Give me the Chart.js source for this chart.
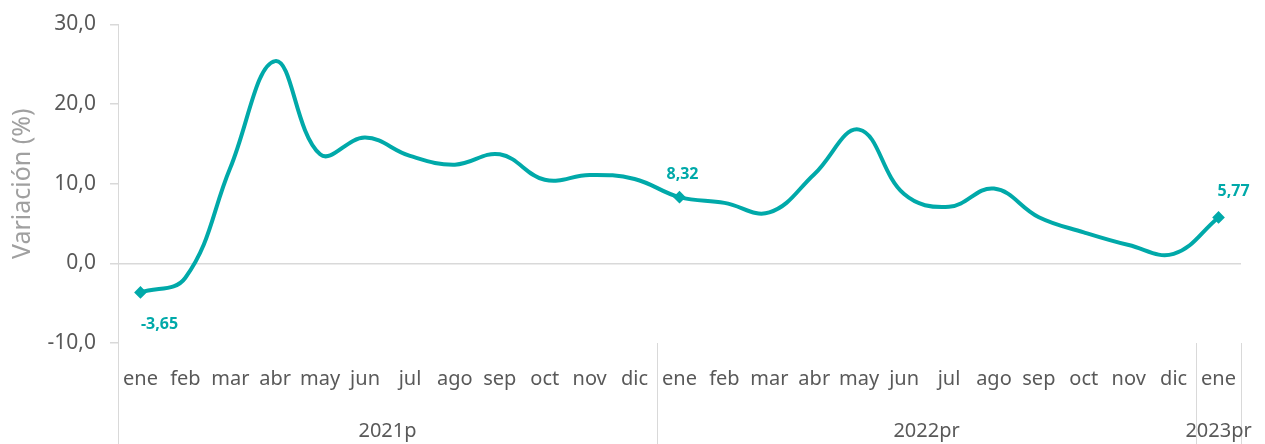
<!DOCTYPE html>
<html>
<head>
<meta charset="utf-8">
<script src="https://cdn.jsdelivr.net/npm/chart.js@4/dist/chart.umd.min.js"></script>
<style>
  html, body { margin: 0; padding: 0; background: #fff; }
  #wrap { width: 1265px; height: 444px; }
</style>
</head>
<body>
<div id="wrap"><canvas id="chart"></canvas></div>
<script>
const months = ['ene', 'feb', 'mar', 'abr', 'may', 'jun', 'jul', 'ago', 'sep', 'oct', 'nov', 'dic',
  'ene', 'feb', 'mar', 'abr', 'may', 'jun', 'jul', 'ago', 'sep', 'oct', 'nov', 'dic', 'ene'];
const years = ['2021p', '2022pr', '2023pr'];
const yearStart = [0, 12, 24];
const yearEnd = [11, 23, 24];
const variacion = [-3.65, -1.8, 12.0, 25.4, 13.7, 15.8, 13.5, 12.4, 13.7, 10.5, 11.1, 10.6,
  8.32, 7.6, 6.4, 11.2, 16.8, 8.7, 7.1, 9.4, 5.8, 3.9, 2.3, 1.2, 5.77];
const labeled = [0, 12, 24];

const teal = '#00A9A9';
const gray = '#595959';
const lineGray = '#d9d9d9';
const font = "'Noto Sans', 'Open Sans', sans-serif";

const fmt = (v, d) => v.toFixed(d).replace('.', ',');

const extras = {
  id: 'extras',
  afterDatasetsDraw(chart) {
    const { ctx, scales: { x, y }, chartArea } = chart;
    const meta = chart.getDatasetMeta(0);
    ctx.save();
    // point labels
    ctx.fillStyle = teal;
    ctx.font = "bold 16px " + font;
    ctx.textAlign = 'center';
    ctx.textBaseline = 'middle';
    labeled.forEach(i => {
      const p = meta.data[i];
      const v = variacion[i];
      if (i === 0) ctx.fillText(fmt(v, 2), p.x + 19, p.y + 32);
      else if (i === 24) ctx.fillText(fmt(v, 2), p.x + 15, p.y - 26);
      else ctx.fillText(fmt(v, 2), p.x + 3, p.y - 23);
    });
    // axis line to bottom and year separators
    ctx.strokeStyle = lineGray;
    ctx.lineWidth = 1;
    ctx.beginPath();
    ctx.moveTo(chartArea.left + 0.5, chartArea.top);
    ctx.lineTo(chartArea.left + 0.5, chart.height);
    const half = (x.getPixelForValue(1) - x.getPixelForValue(0)) / 2;
    yearEnd.forEach(e => {
      const sx = Math.round(x.getPixelForValue(e) + half) + 0.5;
      ctx.moveTo(sx, chartArea.bottom);
      ctx.lineTo(sx, chart.height);
    });
    ctx.stroke();
    // year labels
    ctx.fillStyle = gray;
    ctx.font = "20px " + font;
    years.forEach((yr, k) => {
      const cx = (x.getPixelForValue(yearStart[k]) + x.getPixelForValue(yearEnd[k])) / 2;
      ctx.fillText(yr, cx, 431);
    });
    ctx.restore();
  }
};

new Chart(document.getElementById('chart'), {
  type: 'line',
  data: {
    labels: months,
    datasets: [{
      data: variacion,
      borderColor: teal,
      backgroundColor: teal,
      borderWidth: 4,
      tension: 0.4,
      pointStyle: 'rectRot',
      pointRadius: ctx => labeled.includes(ctx.dataIndex) ? 3.5 : 0,
      pointHoverRadius: 0,
      clip: false
    }]
  },
  options: {
    responsive: true,
    maintainAspectRatio: false,
    animation: false,
    events: [],
    layout: { padding: { top: 0, right: 24, left: 0, bottom: 0 } },
    plugins: { legend: { display: false }, tooltip: { enabled: false } },
    scales: {
      x: {
        offset: true,
        grid: { display: false, drawTicks: false },
        border: { display: false },
        ticks: { color: gray, font: { family: font, size: 20 }, padding: 24, maxRotation: 0, autoSkip: false },
        afterFit(scale) { scale.height = 101; }
      },
      y: {
        min: -10,
        max: 30,
        ticks: { stepSize: 10, color: gray, font: { family: font, size: 21, lineHeight: 1.0 }, padding: 14,
          callback: v => fmt(v, 1) },
        grid: {
          color: c => c.tick && c.tick.value === 0 ? lineGray : 'rgba(0,0,0,0)',
          tickColor: lineGray,
          tickLength: 8,
          lineWidth: 1.5
        },
        border: { display: true, color: lineGray },
        title: { display: true, text: 'Variación (%)', color: '#a0a0a0',
          font: { family: font, size: 25 }, padding: { top: 8, bottom: 0 } },
        afterFit(scale) { scale.width = 118; }
      }
    }
  },
  plugins: [extras]
});
</script>
</body>
</html>
